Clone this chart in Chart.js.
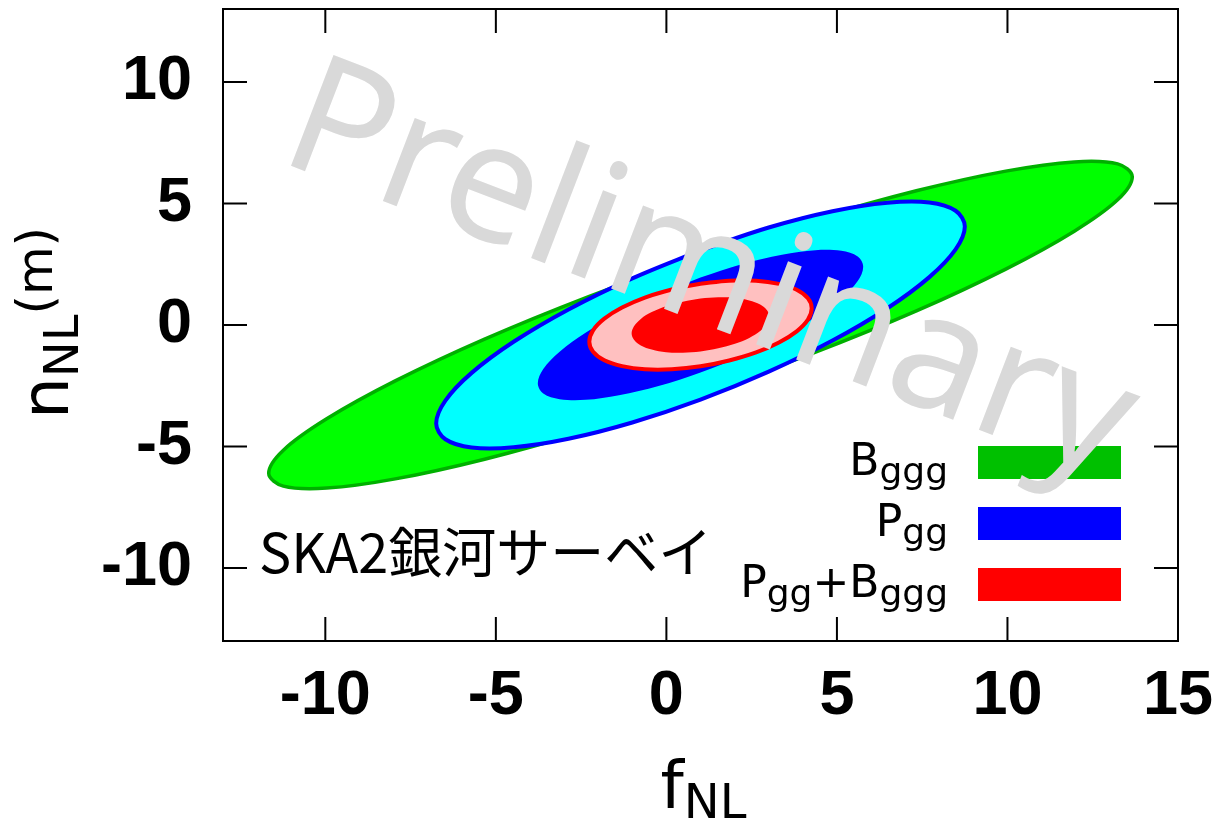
<!DOCTYPE html>
<html>
<head>
<meta charset="utf-8">
<script src="https://cdn.jsdelivr.net/npm/chart.js@4/dist/chart.umd.min.js"></script>
<style>
  html, body { margin: 0; padding: 0; background: #fff; }
  canvas { display: block; }
</style>
</head>
<body>
<canvas id="chart" width="1224" height="819"></canvas>
<script>
// --- DATA ---
const xTicks = [-10, -5, 0, 5, 10, 15];
const yTicks = [-10, -5, 0, 5, 10];
const xRange = [-13, 15];
const yRange = [-13, 13];

// contour outlines, [fNL, nNL] pairs
const bgggOuter = [
  [1.00, 2.85], [-2.28, 1.17], [-5.33, -0.58], [-7.95, -2.30], [-9.96, -3.86], [-11.23, -5.15],
  [-11.66, -6.10], [-11.23, -6.63], [-9.96, -6.71], [-7.95, -6.33], [-5.33, -5.52], [-2.28, -4.33],
  [1.00, -2.85], [4.28, -1.17], [7.33, 0.58], [9.95, 2.30], [11.96, 3.86], [13.23, 5.15],
  [13.66, 6.10], [13.23, 6.63], [11.96, 6.71], [9.95, 6.33], [7.33, 5.52], [4.28, 4.33]
];
const pggOuter = [
  [1.00, 3.07], [-1.00, 1.92], [-2.87, 0.64], [-4.48, -0.69], [-5.71, -1.97], [-6.48, -3.11],
  [-6.75, -4.05], [-6.48, -4.70], [-5.71, -5.04], [-4.48, -5.03], [-2.87, -4.68], [-1.00, -4.01],
  [1.00, -3.07], [3.00, -1.92], [4.87, -0.64], [6.48, 0.69], [7.71, 1.97], [8.48, 3.11],
  [8.75, 4.05], [8.48, 4.70], [7.71, 5.04], [6.48, 5.03], [4.87, 4.68], [3.00, 4.01]
];
const pggInner = [
  [1.00, 1.95], [-0.23, 1.26], [-1.39, 0.49], [-2.37, -0.32], [-3.13, -1.10], [-3.61, -1.81],
  [-3.77, -2.40], [-3.61, -2.82], [-3.13, -3.05], [-2.37, -3.08], [-1.39, -2.89], [-0.23, -2.51],
  [1.00, -1.95], [2.23, -1.26], [3.39, -0.49], [4.37, 0.32], [5.13, 1.10], [5.61, 1.81],
  [5.77, 2.40], [5.61, 2.82], [5.13, 3.05], [4.37, 3.08], [3.39, 2.89], [2.23, 2.51]
];
const bothOuter = [
  [1.00, 1.70], [0.16, 1.46], [-0.63, 1.13], [-1.30, 0.72], [-1.82, 0.26], [-2.15, -0.22],
  [-2.26, -0.69], [-2.15, -1.10], [-1.82, -1.45], [-1.30, -1.69], [-0.63, -1.82], [0.16, -1.82],
  [1.00, -1.70], [1.84, -1.46], [2.63, -1.13], [3.30, -0.72], [3.82, -0.26], [4.15, 0.22],
  [4.26, 0.69], [4.15, 1.10], [3.82, 1.45], [3.30, 1.69], [2.63, 1.82], [1.84, 1.82]
];
const bothInner = [
  [1.00, 1.09], [0.48, 0.96], [-0.01, 0.77], [-0.43, 0.53], [-0.75, 0.25], [-0.95, -0.05],
  [-1.02, -0.34], [-0.95, -0.61], [-0.75, -0.84], [-0.43, -1.01], [-0.01, -1.12], [0.48, -1.14],
  [1.00, -1.09], [1.52, -0.96], [2.01, -0.77], [2.43, -0.53], [2.75, -0.25], [2.95, 0.05],
  [3.02, 0.34], [2.95, 0.61], [2.75, 0.84], [2.43, 1.01], [2.01, 1.12], [1.52, 1.14]
];

// legend labels: [text, 0 = normal / 1 = subscript]
const legendLabels = [
  [['B', 0], ['ggg', 1]],
  [['P', 0], ['gg', 1]],
  [['P', 0], ['gg', 1], ['+B', 0], ['ggg', 1]]
];
const legendColors = ['#00c000', '#0000ff', '#ff0000'];
const xTitle = [['f', 0], ['NL', 1]];
const yTitle = [['n', 0], ['NL', 1], ['(m)', 2]];
const surveyText = 'SKA2銀河サーベイ';
const watermark = 'Preliminary';

// --- HELPERS ---
const closed = pts => pts.concat([pts[0]]).map(p => ({ x: p[0], y: p[1] }));

function partsWidth(ctx, parts, fonts) {
  let w = 0;
  parts.forEach(([t, k]) => { ctx.font = fonts[k]; w += ctx.measureText(t).width; });
  return w;
}

function drawParts(ctx, parts, x, y, fonts, shifts) {
  parts.forEach(([t, k]) => {
    ctx.font = fonts[k];
    ctx.fillText(t, x, y + shifts[k]);
    x += ctx.measureText(t).width;
  });
}

function contour(pts, fillColor, lineColor, lineWidth, order) {
  return {
    data: closed(pts),
    backgroundColor: fillColor,
    borderColor: lineColor,
    borderWidth: lineWidth,
    fill: 'shape',
    tension: 0.35,
    pointRadius: 0,
    order: order
  };
}

// --- PLUGINS ---
const frame = {
  id: 'frame',
  afterDatasetsDraw(chart) {
    const { ctx, chartArea: a, scales: { x, y } } = chart;
    const tl = 24;
    ctx.save();
    ctx.strokeStyle = '#000';
    ctx.lineWidth = 2;
    ctx.strokeRect(a.left, a.top, a.right - a.left, a.bottom - a.top);
    ctx.beginPath();
    xTicks.forEach(v => {
      const px = x.getPixelForValue(v);
      ctx.moveTo(px, a.bottom); ctx.lineTo(px, a.bottom - tl);
      ctx.moveTo(px, a.top); ctx.lineTo(px, a.top + tl);
    });
    yTicks.forEach(v => {
      const py = y.getPixelForValue(v);
      ctx.moveTo(a.left, py); ctx.lineTo(a.left + tl, py);
      ctx.moveTo(a.right, py); ctx.lineTo(a.right - tl, py);
    });
    ctx.stroke();
    ctx.restore();
  }
};

const extras = {
  id: 'extras',
  afterDraw(chart) {
    const { ctx, chartArea: a } = chart;
    ctx.save();
    ctx.fillStyle = '#000';
    ctx.textBaseline = 'alphabetic';
    ctx.textAlign = 'left';

    // axis titles
    const tFonts = ["66px 'DejaVu Sans'", "48px 'DejaVu Sans'", "50px 'DejaVu Sans'"];
    const tShift = [0, 10, -16];
    const xw = partsWidth(ctx, xTitle, tFonts);
    drawParts(ctx, xTitle, (a.left + a.right) / 2 + 3 - xw / 2, 808, tFonts, tShift);

    const yw = partsWidth(ctx, yTitle, tFonts);
    ctx.save();
    ctx.translate(68, (a.top + a.bottom) / 2 - 2);
    ctx.rotate(-Math.PI / 2);
    drawParts(ctx, yTitle, -yw / 2, 0, tFonts, tShift);
    ctx.restore();

    // legend
    const lFonts = ["44px 'DejaVu Sans'", "36px 'DejaVu Sans'"];
    legendLabels.forEach((parts, i) => {
      const base = 475 + i * 61;
      const w = partsWidth(ctx, parts, lFonts);
      ctx.fillStyle = '#000';
      drawParts(ctx, parts, 948 - w, base, lFonts, [0, 8]);
      ctx.fillStyle = legendColors[i];
      ctx.fillRect(978, base - 29, 143, 33);
    });

    // survey label
    ctx.fillStyle = '#000';
    ctx.font = "54px 'Noto Sans CJK JP'";
    ctx.fillText(surveyText, 259, 573);

    // watermark
    ctx.translate(276, 160);
    ctx.rotate(21 * Math.PI / 180);
    ctx.fillStyle = '#d9d9d9';
    ctx.font = "166px 'Noto Sans'";
    ctx.fillText(watermark, 0, 0);
    ctx.restore();
  }
};

// --- CHART ---
const tickFont = { family: "'Liberation Sans', Arial, sans-serif", size: 63, weight: 'bold' };

new Chart(document.getElementById('chart'), {
  type: 'line',
  data: {
    datasets: [
      contour(bothInner, '#ff0000', '#ff0000', 0, 0),
      contour(bothOuter, '#ffc0c0', '#ff0000', 4, 1),
      contour(pggInner, '#0000ff', '#0000ff', 0, 2),
      contour(pggOuter, '#00ffff', '#0000ff', 4, 3),
      contour(bgggOuter, '#00ff00', '#00b000', 3.5, 4)
    ]
  },
  options: {
    responsive: false,
    animation: false,
    devicePixelRatio: 1,
    layout: { padding: { top: 9, right: 46, left: 0, bottom: 0 } },
    plugins: { legend: { display: false }, tooltip: { enabled: false } },
    scales: {
      x: {
        type: 'linear',
        min: xRange[0],
        max: xRange[1],
        grid: { display: false, drawTicks: false },
        border: { display: false },
        afterBuildTicks: s => { s.ticks = xTicks.map(v => ({ value: v })); },
        afterFit: s => { s.height = 178; s.paddingLeft = 0; s.paddingRight = 0; },
        ticks: { font: tickFont, color: '#000', padding: 18, maxRotation: 0, autoSkip: false }
      },
      y: {
        type: 'linear',
        min: yRange[0],
        max: yRange[1],
        grid: { display: false, drawTicks: false },
        border: { display: false },
        afterBuildTicks: s => { s.ticks = yTicks.map(v => ({ value: v })); },
        afterFit: s => { s.width = 223; s.paddingTop = 0; s.paddingBottom = 0; },
        ticks: { font: tickFont, color: '#000', padding: 31, autoSkip: false }
      }
    }
  },
  plugins: [frame, extras]
});
</script>
</body>
</html>
